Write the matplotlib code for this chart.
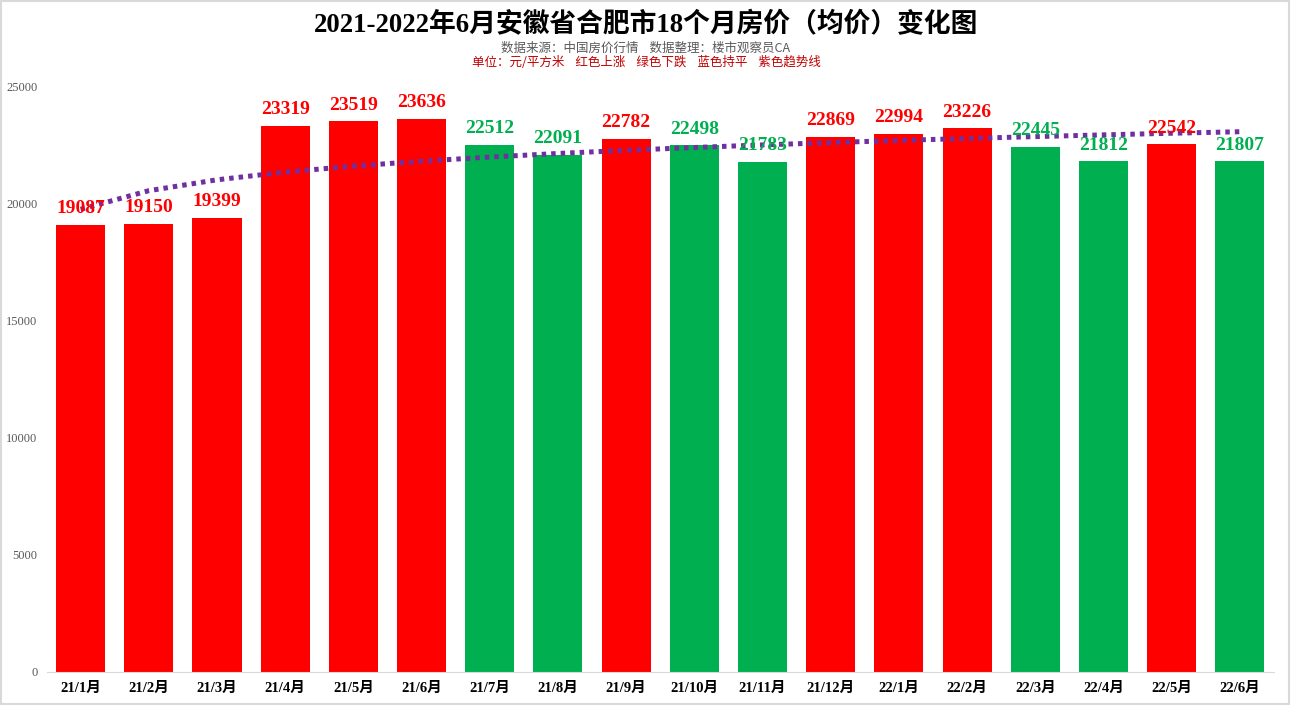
import numpy as np
import matplotlib.pyplot as plt

plt.rcParams['font.family'] = ['Liberation Serif', 'Noto Sans CJK SC', 'DejaVu Sans']

months = ['21/1月', '21/2月', '21/3月', '21/4月', '21/5月', '21/6月', '21/7月', '21/8月', '21/9月',
          '21/10月', '21/11月', '21/12月', '22/1月', '22/2月', '22/3月', '22/4月', '22/5月', '22/6月']
prices = [19087, 19150, 19399, 23319, 23519, 23636, 22512, 22091, 22782,
          22498, 21783, 22869, 22994, 23226, 22445, 21812, 22542, 21807]
# r = rise, g = fall
trend_dir = ['r', 'r', 'r', 'r', 'r', 'r', 'g', 'g', 'r',
             'g', 'g', 'r', 'r', 'r', 'g', 'g', 'r', 'g']

RED = '#FF0000'
GREEN = '#00B050'
PURPLE = '#7030A0'
colors = [RED if d == 'r' else GREEN for d in trend_dir]

fig = plt.figure(figsize=(12.92, 7.05), dpi=100)
ax = fig.add_axes([0.036, 0.047, 0.950, 0.83])

x = np.arange(len(months))
ax.bar(x, prices, width=0.72, color=colors, zorder=2)

# logarithmic trend line (as in the spreadsheet chart)
b, a = np.polyfit(np.log(x + 1), prices, 1)
ax.plot(x, a + b * np.log(x + 1), color=PURPLE, lw=3.6, ls=(0, (0.9, 1.0)), zorder=3)

for xi, v, c in zip(x, prices, colors):
    ax.text(xi, v + 330, str(v), ha='center', va='bottom', color=c,
            fontsize=14, fontweight='bold', zorder=4)

ax.set_xlim(-0.5, len(months) - 0.5)
ax.set_ylim(0, 25000)
ax.set_yticks(range(0, 25001, 5000))
ax.tick_params(axis='y', length=0, labelsize=9, labelcolor='#595959', pad=6.5)
ax.tick_params(axis='x', length=0, labelsize=10.5, pad=7)
ax.set_xticks(x)
ax.set_xticklabels(months, fontweight='bold')
for s in ['top', 'right', 'left']:
    ax.spines[s].set_visible(False)
ax.spines['bottom'].set_color('#D9D9D9')

fig.text(0.5, 0.965, '2021-2022年6月安徽省合肥市18个月房价（均价）变化图', ha='center', va='center',
         fontsize=19.3, fontweight='bold')
fig.text(0.5, 0.932, '数据来源：中国房价行情    数据整理：楼市观察员CA', ha='center', va='center',
         fontsize=9, color='#595959', family=['Noto Sans CJK SC', 'DejaVu Sans'])
fig.text(0.5, 0.911, '单位：元/平方米    红色上涨    绿色下跌    蓝色持平    紫色趋势线', ha='center',
         va='center', fontsize=9, color='#C00000', family=['Noto Sans CJK SC', 'DejaVu Sans'])

fig.patches.append(plt.Rectangle((0.001, 0.002), 0.997, 0.996, transform=fig.transFigure,
                                 fill=False, edgecolor='#D9D9D9', lw=1.5))

fig.savefig('out.png', dpi=100)
